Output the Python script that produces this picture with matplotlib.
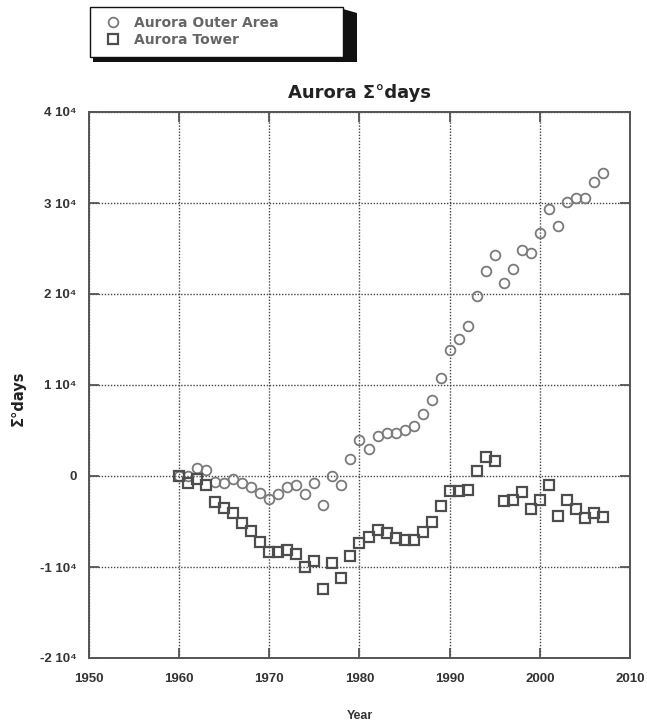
import matplotlib
matplotlib.use("Agg")
import matplotlib.pyplot as plt
from matplotlib.patches import Rectangle, Polygon
from matplotlib.lines import Line2D

plt.rcParams['font.family'] = ['Liberation Sans', 'DejaVu Sans']

years = list(range(1960, 2008))
outer_area = [0, -50, 850, 660, -700, -800, -330, -800, -1250, -1840,
              -2500, -2000, -1180, -1000, -2000, -800, -3200, -50, -1000, 1840,
              4000, 2970, 4400, 4700, 4700, 5050, 5530, 6800, 8350, 10800,
              13850, 15100, 16500, 19800, 22500, 24300, 21200, 22700, 24800, 24500,
              26700, 29300, 27500, 30100, 30600, 30600, 32300, 33300]
tower = [0, -800, -370, -1000, -2830, -3500, -4050, -5150, -6000, -7200,
         -8400, -8400, -8150, -8600, -10000, -9300, -12400, -9550, -11200, -8800,
         -7350, -6750, -5900, -6300, -6800, -7000, -7000, -6100, -5100, -3300,
         -1700, -1700, -1550, 500, 2050, 1700, -2800, -2650, -1800, -3600,
         -2650, -1000, -4400, -2650, -3600, -4600, -4100, -4500]

xticks = [1950, 1960, 1970, 1980, 1990, 2000, 2010]
yticks = [-20000, -10000, 0, 10000, 20000, 30000, 40000]
ytick_labels = ["-2 10\u2074", "-1 10\u2074", "0", "1 10\u2074", "2 10\u2074", "3 10\u2074", "4 10\u2074"]
series_names = ["Aurora Outer Area", "Aurora Tower"]

W, H = 647, 725
fig = plt.figure(figsize=(W / 100, H / 100), dpi=100)
ax = fig.add_axes([89 / W, 1 - 658 / H, (630 - 89) / W, (658 - 112) / H])

c_outer = '#7a7a7a'
c_tower = '#4d4d4d'
ax.plot(years, outer_area, linestyle='none', marker='o', markersize=7.0,
        markerfacecolor='none', markeredgecolor=c_outer, markeredgewidth=1.3, zorder=3)
ax.plot(years, tower, linestyle='none', marker='s', markersize=7.6,
        markerfacecolor='none', markeredgecolor=c_tower, markeredgewidth=1.6, zorder=3)

ax.set_xlim(1950, 2010)
ax.set_ylim(-20000, 40000)
ax.set_xticks(xticks)
ax.set_xticklabels([str(x) for x in xticks])
ax.set_yticks(yticks)
ax.set_yticklabels(ytick_labels)
ax.grid(True, linestyle=(0, (1, 1.2)), color='#444444', linewidth=1.0)
ax.tick_params(direction='in', length=7, width=1.3, color='#555555',
               top=True, right=True, labelsize=9.5, labelcolor='#333333')
ax.tick_params(axis='x', pad=11)
ax.tick_params(axis='y', pad=9)
for lab in ax.get_xticklabels() + ax.get_yticklabels():
    lab.set_fontweight('bold')
for s in ax.spines.values():
    s.set_color('#555555')
    s.set_linewidth(1.4)

ax.set_title("Aurora \u03a3\u00b0days", fontsize=13, fontweight='bold', color='#222222',
             pad=10, family=['DejaVu Sans'])
fig.text(18 / W, 1 - 398 / H, "\u03a3\u00b0days", rotation=90, ha='center', va='center',
         fontsize=10.5, fontweight='bold', color='#222222', family=['DejaVu Sans'])
fig.text(360 / W, 1 - 716 / H, "Year", ha='center', va='center',
         fontsize=9, fontweight='bold', color='#333333')

# legend box with drop shadow
x0, x1, y0, y1 = 90, 343, 7, 57
shadow = Polygon([[x1 / W, 1 - (y0 + 2) / H], [(x1 + 14) / W, 1 - (y0 + 6) / H],
                  [(x1 + 14) / W, 1 - (y1 + 5) / H], [(x0 + 3) / W, 1 - (y1 + 5) / H],
                  [(x0 + 3) / W, 1 - y1 / H], [x1 / W, 1 - y1 / H]],
                 closed=True, transform=fig.transFigure, facecolor='#111111',
                 edgecolor='none', zorder=1)
fig.patches.append(shadow)
box = Rectangle((x0 / W, 1 - y1 / H), (x1 - x0) / W, (y1 - y0) / H,
                transform=fig.transFigure, facecolor='white', edgecolor='#111111',
                linewidth=1.0, zorder=2)
fig.patches.append(box)

handles = [Line2D([], [], linestyle='none', marker='o', markersize=7, markerfacecolor='none',
                  markeredgecolor=c_outer, markeredgewidth=1.3),
           Line2D([], [], linestyle='none', marker='s', markersize=7, markerfacecolor='none',
                  markeredgecolor=c_tower, markeredgewidth=1.6)]
leg = fig.legend(handles, series_names, loc='upper left',
                 bbox_to_anchor=(106 / W, 1 - 16 / H), frameon=False,
                 handlelength=1.0, handletextpad=1.0, labelspacing=0.2,
                 borderpad=0, borderaxespad=0,
                 prop={'size': 10, 'weight': 'bold', 'family': ['DejaVu Sans']})
leg.set_zorder(5)
for t in leg.get_texts():
    t.set_color('#666666')

fig.savefig("out.png", dpi=100)
